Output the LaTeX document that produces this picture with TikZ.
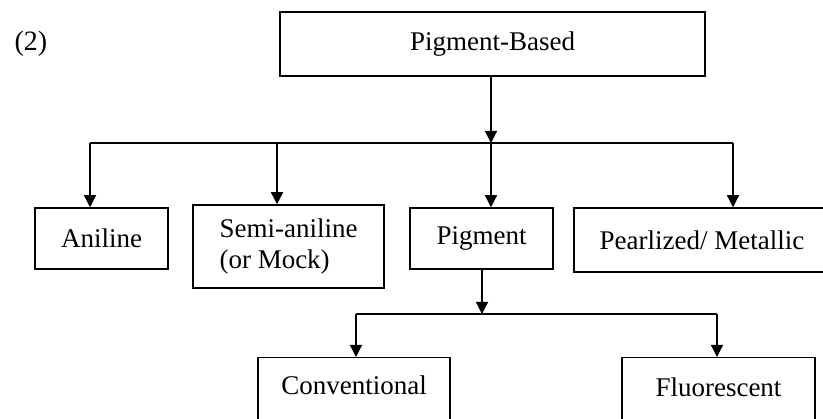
\documentclass[tikz,border=0pt]{standalone}
\usepackage{fontspec}
\setmainfont{Liberation Serif}
\usetikzlibrary{arrows.meta}
\begin{document}
\begin{tikzpicture}[x=1pt,y=-1pt,
  box/.style={draw=black,line width=1.5pt,rectangle,inner sep=0pt,
    font=\fontsize{27}{31}\selectfont},
  link/.style={draw=black,line width=1.3pt},
  arr/.style={link,-{Triangle[width=12pt,length=12pt]}}]
\useasboundingbox (0,0) rectangle (823,419);
\clip (0,0) rectangle (823,419);

% label of the figure part
\node[font=\fontsize{28}{32}\selectfont] (tag) at (31,44) {(2)};

% top category
\node[box,minimum width=425pt,minimum height=64pt] (pb) at (492.5,44) {Pigment-Based};

% second level
\node[box,minimum width=133pt,minimum height=61pt] (ani) at (101.5,238.5) {Aniline};
\node[box,minimum width=191pt,minimum height=83pt,align=left] (semi) at (288.5,246.5)
  {Semi-aniline\\(or Mock)};
\node[box,minimum width=143pt,minimum height=61pt] (pig) at (481.5,238.5) {Pigment};
\node[box,minimum width=256pt,minimum height=64pt] (pearl) at (702,240) {Pearlized/ Metallic};

% third level (boxes run past the lower edge)
\node[box,minimum width=192pt,text height=37pt,text depth=50pt,anchor=north] (conv) at (354,357) {Conventional};
\node[box,minimum width=193pt,text height=39pt,text depth=50pt,anchor=north] (fluo) at (718.5,357) {Fluorescent};

% junction points on the upper bus
\coordinate (b1) at (90,143);
\coordinate (b2) at (277,143);
\coordinate (b3) at (491,143);
\coordinate (b4) at (733,143);

% junction points on the lower bus
\coordinate (c1) at (356,314);
\coordinate (c2) at (482,314);
\coordinate (c3) at (717,314);

% upper tree
\draw[arr] (pb.south -| b3) -- (b3);
\draw[link] (b1) -- (b4);
\draw[arr] (b1) -- (b1 |- ani.north);
\draw[arr] (b2) -- (b2 |- semi.north);
\draw[arr] (b3) -- (b3 |- pig.north);
\draw[arr] (b4) -- (b4 |- pearl.north);

% lower tree
\draw[arr] (pig.south -| c2) -- (c2);
\draw[link] (c1) -- (c3);
\draw[arr] (c1) -- (c1 |- conv.north);
\draw[arr] (c3) -- (c3 |- fluo.north);
\end{tikzpicture}
\end{document}
